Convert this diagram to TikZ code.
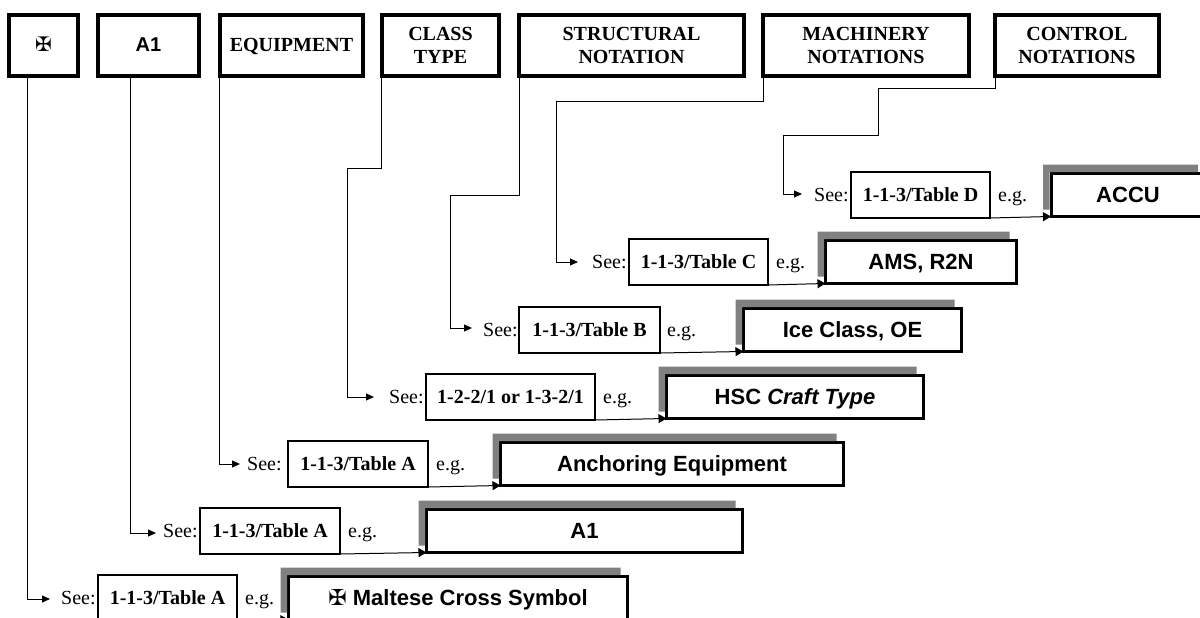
\documentclass[tikz,border=0pt]{standalone}
\usepackage{fontspec}
\setmainfont{Liberation Serif}
\setsansfont{Liberation Sans}
\newfontfamily\crossfont{DejaVu Sans}
\usetikzlibrary{arrows.meta}
\definecolor{shadowgray}{HTML}{808080}
\tikzset{
  topbox/.style={draw=black,line width=4pt,inner sep=0pt,outer sep=0pt,minimum height=61pt,align=center,
    font=\fontsize{20}{23}\selectfont\bfseries},
  oneline/.style={text height=14pt,text depth=1pt},
  bigbox/.style={draw=black,line width=3pt,inner sep=0pt,outer sep=0pt,minimum height=43pt,
    text height=16pt,text depth=2pt,font=\fontsize{22}{26}\selectfont\sffamily\bfseries},
  refbox/.style={draw=black,line width=1.4pt,inner sep=0pt,outer sep=0pt,minimum height=46pt,
    text height=15pt,text depth=3pt,font=\fontsize{20}{23}\selectfont\bfseries},
  plain/.style={anchor=base west,inner sep=0pt,font=\fontsize{20}{23}\selectfont},
  conn/.style={draw=black,line width=1pt},
  arrowed/.style={conn,-{Triangle[length=8pt,width=7pt]}},
  bigarrow/.style={conn,-{Triangle[length=8pt,width=9pt]}}
}
\newcommand{\grayL}[1]{\fill[shadowgray]
  ([shift={(-8,-9)}]#1.north west) -- ([shift={(-7,-9)}]#1.north east) -- ([shift={(-7,-1.5)}]#1.north east)
  -- ([shift={(-1.5,-1.5)}]#1.north west) -- ([shift={(-1.5,-7)}]#1.south west) -- ([shift={(-8,-7)}]#1.south west) -- cycle;}
\begin{document}
\begin{tikzpicture}[x=1pt,y=-1pt]
\useasboundingbox (0,0) rectangle (1200,618);
\clip (0,0) rectangle (1200,618);
\fill[white] (0,0) rectangle (1200,618);
% top row
\node[topbox,oneline,minimum width=69pt] (t1) at (43.5,45.5) {\crossfont ✠};
\node[topbox,oneline,minimum width=101pt] (t2) at (148.5,45.5) {\sffamily A1};
\node[topbox,oneline,minimum width=143pt] (t3) at (291.5,45.5) {EQUIPMENT};
\node[topbox,minimum width=117pt] (t4) at (440.5,45.5) {CLASS\\TYPE};
\node[topbox,minimum width=225pt] (t5) at (631.5,45.5) {STRUCTURAL\\NOTATION};
\node[topbox,minimum width=206pt] (t6) at (866,45.5) {MACHINERY\\NOTATIONS};
\node[topbox,minimum width=164pt] (t7) at (1077,45.5) {CONTROL\\NOTATIONS};
% result boxes
\node[bigbox,minimum width=154pt] (b7) at (1128,195) {ACCU};
\node[bigbox,minimum width=191pt] (b6) at (921,262) {AMS, R2N};
\node[bigbox,minimum width=218pt] (b5) at (852.5,330) {Ice Class, OE};
\node[bigbox,minimum width=257pt] (b4) at (795,397) {HSC \textit{Craft Type}};
\node[bigbox,minimum width=343pt] (b3) at (672,464) {Anchoring Equipment};
\node[bigbox,minimum width=316pt] (b2) at (584.5,531) {A1};
\node[bigbox,minimum width=339pt] (b1) at (458,598) {{\crossfont ✠} Maltese Cross Symbol};
\grayL{b7}\grayL{b6}\grayL{b5}\grayL{b4}\grayL{b3}\grayL{b2}\grayL{b1}
% reference boxes
\node[refbox,minimum width=139pt] (r7) at (920.5,195) {1-1-3/Table D};
\node[refbox,minimum width=139pt] (r6) at (698.5,262) {1-1-3/Table C};
\node[refbox,minimum width=141pt] (r5) at (589.5,330) {1-1-3/Table B};
\node[refbox,minimum width=169pt] (r4) at (510.5,397) {1-2-2/1 or 1-3-2/1};
\node[refbox,minimum width=140pt] (r3) at (358,464) {1-1-3/Table A};
\node[refbox,minimum width=140pt] (r2) at (270,531) {1-1-3/Table A};
\node[refbox,minimum width=139pt] (r1) at (167.5,598) {1-1-3/Table A};
% See: labels
\node[plain] (s7) at (814,201) {See:};
\node[plain] (s6) at (592,268) {See:};
\node[plain] (s5) at (483,336) {See:};
\node[plain] (s4) at (389,403) {See:};
\node[plain] (s3) at (247,470) {See:};
\node[plain] (s2) at (163,537) {See:};
\node[plain] (s1) at (61,604) {See:};
% e.g. labels
\node[plain] (e7) at (998,201) {e.g.};
\node[plain] (e6) at (776,268) {e.g.};
\node[plain] (e5) at (667,336) {e.g.};
\node[plain] (e4) at (603,403) {e.g.};
\node[plain] (e3) at (436,470) {e.g.};
\node[plain] (e2) at (348,537) {e.g.};
\node[plain] (e1) at (245,604) {e.g.};
% connector arrow tips and bends
\coordinate (k1) at (27.5,599);  \coordinate (p1) at (50,599);
\coordinate (k2) at (130.5,533); \coordinate (p2) at (156,533);
\coordinate (k3) at (219.5,464); \coordinate (p3) at (240,464);
\coordinate (m4) at (381,168);   \coordinate (k4) at (347,397); \coordinate (p4) at (374,397);
\coordinate (m5) at (519,195);   \coordinate (k5) at (450,328); \coordinate (p5) at (472,328);
\coordinate (m6) at (763,101);   \coordinate (k6) at (556,262); \coordinate (p6) at (578,262);
\coordinate (m7) at (995,89);    \coordinate (n7) at (878,135); \coordinate (k7) at (783,194); \coordinate (p7) at (802,194);
% connectors from the top row
\draw[arrowed] (t1.south -| k1) -- (k1) -- (p1);
\draw[arrowed] (t2.south -| k2) -- (k2) -- (p2);
\draw[arrowed] (t3.south -| k3) -- (k3) -- (p3);
\draw[arrowed] (t4.south -| m4) -- (m4) -| (k4) -- (p4);
\draw[arrowed] (t5.south -| m5) -- (m5) -| (k5) -- (p5);
\draw[arrowed] (t6.south -| m6) -- (m6) -| (k6) -- (p6);
\draw[arrowed] (t7.south -| m7) -- (m7) -| (n7) -| (k7) -- (p7);
% connectors from reference to result
\foreach \i in {1,...,7}{\draw[bigarrow] (r\i.south east) -- (b\i.south west);}
\end{tikzpicture}
\end{document}
